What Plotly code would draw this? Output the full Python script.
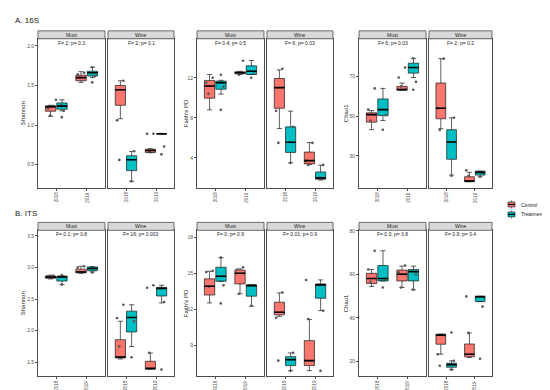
import plotly.graph_objects as go

W, H = 550, 390
years = ["2018", "2019"]
facets = ["Must", "Wine"]
conditions = ["Control", "Treatment"]
metrics = ["Shannon", "Faith's PD", "Chao1"]
colors = {"Control": "#F8766D", "Treatment": "#00BFC4"}

# Box statistics per year: (lower whisker, q1, median, q3, upper whisker)
# ---- A. 16S ----
a_shannon_must_control = [(1.11, 1.175, 1.233, 1.24, 1.25), (1.54, 1.56, 1.60, 1.63, 1.675)]
a_shannon_must_treatment = [(1.18, 1.20, 1.24, 1.28, 1.32), (1.60, 1.62, 1.66, 1.68, 1.73)]
a_shannon_wine_control = [(1.08, 1.25, 1.446, 1.50, 1.56), (0.65, 0.654, 0.679, 0.696, 0.70)]
a_shannon_wine_treatment = [(0.29, 0.425, 0.5625, 0.6125, 0.667), (0.885, 0.888, 0.89, 0.892, 0.895)]
a_shannon_must_points = [[1.32, 1.25, 1.21, 1.18, 1.12, 1.10, 1.24], [1.73, 1.62, 1.60, 1.66, 1.54, 1.64]]
a_shannon_wine_points = [[1.56, 1.06, 0.67, 0.29, 0.56], [0.89, 0.73, 0.63, 0.67, 0.89]]

a_faith_must_control = [(8.8, 9.97, 11.18, 11.74, 12.33), (12.35, 12.4, 12.5, 12.6, 12.65)]
a_faith_must_treatment = [(10.37, 10.86, 11.5, 11.67, 11.75), (12.33, 12.33, 12.65, 13.2, 13.73)]
a_faith_wine_control = [(6.93, 8.96, 11.02, 11.93, 12.8), (3.34, 3.4, 3.73, 4.58, 5.53)]
a_faith_wine_treatment = [(3.5, 4.55, 5.56, 7.1, 8.67), (1.8, 1.87, 2.0, 2.59, 3.27)]
a_faith_must_points = [[12.3, 12.0, 11.5, 10.4, 8.8, 11.1], [13.7, 12.0, 12.5, 12.4, 12.3]]
a_faith_wine_points = [[12.9, 8.7, 7.1, 3.5, 5.5], [5.5, 3.7, 3.3, 3.3, 2.0]]

a_chao_must_control = [(43.2, 47, 50.8, 51.7, 52.8), (63.2, 63.2, 63.3, 65, 66.7)]
a_chao_must_treatment = [(47.8, 50.3, 53.3, 58.7, 64), (69.5, 71.7, 74.5, 76.7, 79)]
a_chao_wine_control = [(43.7, 48.7, 54, 66.7, 79), (17, 17, 17.3, 19.5, 21.7)]
a_chao_wine_treatment = [(20.3, 28.3, 37, 43.2, 49.2), (19.5, 20.3, 21.7, 22.3, 22.3)]
a_chao_must_points = [[53.3, 47.8, 64, 43.2, 50.5], [79.2, 74.5, 69.5, 67.3, 63.3, 65]]
a_chao_wine_points = [[79, 54, 49.2, 43, 20], [22.7, 21.5, 20, 19.5]]

# ---- B. ITS ----
b_shannon_must_control = [(2.82, 2.83, 2.85, 2.865, 2.88), (2.91, 2.917, 2.93, 2.975, 3.02)]
b_shannon_must_treatment = [(2.73, 2.786, 2.85, 2.865, 2.87), (2.93, 2.95, 2.985, 3.01, 3.015)]
b_shannon_wine_control = [(1.553, 1.568, 1.584, 1.857, 2.15), (1.395, 1.395, 1.40, 1.516, 1.647)]
b_shannon_wine_treatment = [(1.75, 1.98, 2.21, 2.31, 2.41), (2.44, 2.55, 2.67, 2.686, 2.72)]
b_shannon_must_points = [[2.86, 2.85, 2.88, 2.84, 2.73, 2.87], [3.02, 2.93, 2.92, 3.0, 2.99]]
b_shannon_wine_points = [[2.15, 1.58, 2.41, 1.75, 2.2], [2.68, 2.455, 1.385, 1.65, 2.72]]

b_faith_must_control = [(12.54, 13.2, 13.93, 14.54, 15.17), (13.3, 14.12, 15.0, 15.26, 15.37)]
b_faith_must_treatment = [(14.34, 14.34, 14.76, 15.5, 16.31), (12.27, 13.1, 13.98, 14.04, 14.04)]
b_faith_wine_control = [(11.43, 11.55, 11.77, 12.6, 13.37), (6.92, 7.34, 7.75, 9.41, 11.16)]
b_faith_wine_treatment = [(6.92, 7.34, 7.83, 8.08, 8.39), (11.9, 12.93, 14.04, 14.12, 14.45)]
b_faith_must_points = [[15.2, 16.3, 14.0, 13.9, 12.5, 15.1], [15.5, 13.3, 12.3, 14.0, 15.3]]
b_faith_wine_points = [[13.4, 11.3, 8.4, 7.75, 6.9], [11.9, 11.2, 14.45, 6.9]]

b_chao_must_control = [(54.5, 55.8, 58.1, 60.5, 62.3), (54, 57, 60.1, 62, 63.8)]
b_chao_must_treatment = [(57, 57, 58.1, 64.1, 70.9), (53, 57, 61.3, 62.3, 63.8)]
b_chao_wine_control = [(23.3, 27.9, 32.1, 32.5, 32.5), (21.8, 22.1, 23.3, 28, 33.1)]
b_chao_wine_treatment = [(16.2, 17.3, 18.5, 19.2, 20.3), (47.5, 47.5, 49.8, 49.9, 49.9)]
b_chao_must_points = [[56.6, 62.3, 70.9, 54, 58], [64.1, 54, 53, 61, 60]]
b_chao_wine_points = [[33.3, 32.1, 23.3, 20.3, 16.2, 18], [49.9, 45.2, 33.1, 21.2]]

# ANOVA labels per panel (Must, Wine)
a_shannon_stats = ["F= 2; p= 0.3", "F= 2; p= 0.1"]
a_faith_stats = ["F= 0.4; p= 0.5", "F= 6; p= 0.03"]
a_chao_stats = ["F= 6; p= 0.03", "F= 2; p= 0.2"]
b_shannon_stats = ["F= 0.1; p= 0.8", "F= 16; p= 0.003"]
b_faith_stats = ["F= 0; p= 0.9", "F= 0.01; p= 0.9"]
b_chao_stats = ["F= 0.3; p= 0.8", "F= 0.9; p= 0.4"]

# y-axis ticks per metric/row
a_shannon_ticks = [0.5, 1.0, 1.5, 2.0]
a_faith_ticks = [4, 8, 12]
a_chao_ticks = [30, 50, 70]
b_shannon_ticks = [1.5, 2.0, 2.5, 3.0, 3.5]
b_faith_ticks = [9, 12, 15, 18]
b_chao_ticks = [20, 40, 60, 80]

# ---------------- layout geometry (pixels) ----------------
col_x = [((30, 97), (100, 166)), ((189, 256), (259, 325)), ((351, 418), (421, 484))]
row_y = [(20, 28, 178), (213, 221, 368)]  # strip top, panel top, panel bottom
ylabel_x = [15, 178, 338]
row_titles = [("A. 16S", 10), ("B. ITS", 204)]
yranges = [[(0.21, 2.09), (1.03, 15.9), (14, 89)],
           [(1.28, 3.59), (6.46, 18.57), (13.2, 80.3)]]
DODGE = 0.1875
BOXW = 0.34
FONT = "Liberation Sans, Arial, sans-serif"
BORDER = "#4D4D4D"
XLAB_OFFSET = 9.5  # px from panel bottom to centre of rotated year label

groups = [
    [  # row A
        dict(m=0, boxes=[(a_shannon_must_control, a_shannon_must_treatment), (a_shannon_wine_control, a_shannon_wine_treatment)],
             pts=[a_shannon_must_points, a_shannon_wine_points], stats=a_shannon_stats, ticks=a_shannon_ticks, fmt="%.1f"),
        dict(m=1, boxes=[(a_faith_must_control, a_faith_must_treatment), (a_faith_wine_control, a_faith_wine_treatment)],
             pts=[a_faith_must_points, a_faith_wine_points], stats=a_faith_stats, ticks=a_faith_ticks, fmt="%d"),
        dict(m=2, boxes=[(a_chao_must_control, a_chao_must_treatment), (a_chao_wine_control, a_chao_wine_treatment)],
             pts=[a_chao_must_points, a_chao_wine_points], stats=a_chao_stats, ticks=a_chao_ticks, fmt="%d"),
    ],
    [  # row B
        dict(m=0, boxes=[(b_shannon_must_control, b_shannon_must_treatment), (b_shannon_wine_control, b_shannon_wine_treatment)],
             pts=[b_shannon_must_points, b_shannon_wine_points], stats=b_shannon_stats, ticks=b_shannon_ticks, fmt="%.1f"),
        dict(m=1, boxes=[(b_faith_must_control, b_faith_must_treatment), (b_faith_wine_control, b_faith_wine_treatment)],
             pts=[b_faith_must_points, b_faith_wine_points], stats=b_faith_stats, ticks=b_faith_ticks, fmt="%d"),
        dict(m=2, boxes=[(b_chao_must_control, b_chao_must_treatment), (b_chao_wine_control, b_chao_wine_treatment)],
             pts=[b_chao_must_points, b_chao_wine_points], stats=b_chao_stats, ticks=b_chao_ticks, fmt="%d"),
    ],
]

fig = go.Figure()
layout = dict(width=W, height=H, margin=dict(l=0, r=0, t=0, b=0),
              paper_bgcolor="white", plot_bgcolor="white", showlegend=False,
              boxmode="overlay", font=dict(family=FONT))
shapes, annotations = [], []

def px(x):
    return x / W

def py(y):
    return 1 - y / H

k = 0
for r, row in enumerate(groups):
    st, pt, pb = row_y[r]
    for g in row:
        c = g["m"]
        ylo, yhi = yranges[r][c]
        for f in range(2):
            k += 1
            xa = "xaxis" if k == 1 else f"xaxis{k}"
            ya = "yaxis" if k == 1 else f"yaxis{k}"
            xr = "x" if k == 1 else f"x{k}"
            yr = "y" if k == 1 else f"y{k}"
            x0, x1 = col_x[c][f]
            layout[xa] = dict(domain=[px(x0), px(x1)], anchor=yr, range=[0.4, 2.6],
                              tickvals=[1, 2], showticklabels=False,
                              ticks="outside", ticklen=2, tickcolor=BORDER, tickwidth=0.6,
                              showline=True, mirror=True, linecolor=BORDER, linewidth=0.8,
                              showgrid=False, zeroline=False, fixedrange=True)
            layout[ya] = dict(domain=[py(pb), py(pt)], anchor=xr, range=[ylo, yhi],
                              tickvals=g["ticks"], ticktext=[g["fmt"] % t for t in g["ticks"]],
                              showticklabels=(f == 0), ticks="outside" if f == 0 else "",
                              ticklen=2, tickcolor=BORDER, tickwidth=0.6,
                              tickfont=dict(size=5, color="#4D4D4D", family=FONT),
                              showline=True, mirror=True, linecolor=BORDER, linewidth=0.8,
                              showgrid=False, zeroline=False, fixedrange=True)
            # x tick labels (rotated, like ggplot angle=90)
            for i, yrname in enumerate(years):
                annotations.append(dict(text=yrname, xref=xr, yref="paper", x=i + 1,
                                        y=py(pb + XLAB_OFFSET),
                                        textangle=-90, showarrow=False, xanchor="center", yanchor="middle",
                                        borderpad=0,
                                        font=dict(size=4.5, color="#4D4D4D", family=FONT)))
            # boxes
            for ci, cond in enumerate(conditions):
                s = g["boxes"][f][ci]
                off = -DODGE if ci == 0 else DODGE
                fig.add_trace(go.Box(
                    x=[i + 1 + off for i in range(len(years))],
                    lowerfence=[v[0] for v in s], q1=[v[1] for v in s], median=[v[2] for v in s],
                    q3=[v[3] for v in s], upperfence=[v[4] for v in s],
                    width=BOXW, fillcolor=colors[cond], line=dict(color="#1A1A1A", width=0.7),
                    boxpoints=False, name=cond, xaxis=xr, yaxis=yr, showlegend=False))
                # thicker median like ggplot
                for i, v in enumerate(s):
                    fig.add_trace(go.Scatter(
                        x=[i + 1 + off - BOXW / 2, i + 1 + off + BOXW / 2], y=[v[2], v[2]],
                        mode="lines", line=dict(color="#000000", width=1.6),
                        xaxis=xr, yaxis=yr, showlegend=False, hoverinfo="skip"))
            # jittered points
            for i, yv in enumerate(g["pts"][f]):
                fig.add_trace(go.Box(
                    x=[i + 1] * len(yv), y=yv, boxpoints="all", jitter=1, pointpos=0, width=0.7,
                    line=dict(width=0), fillcolor="rgba(0,0,0,0)",
                    marker=dict(color="#555555", size=2.6), xaxis=xr, yaxis=yr,
                    showlegend=False, hoveron="points"))
            # strip
            shapes.append(dict(type="rect", xref="paper", yref="paper", x0=px(x0), x1=px(x1),
                               y0=py(pt), y1=py(st), fillcolor="#D9D9D9",
                               line=dict(color=BORDER, width=0.8), layer="above"))
            annotations.append(dict(text=facets[f], xref="paper", yref="paper",
                                    x=px((x0 + x1) / 2), y=py((st + pt) / 2), showarrow=False,
                                    xanchor="center", yanchor="middle",
                                    font=dict(size=5, color="#1A1A1A", family=FONT)))
            annotations.append(dict(text=g["stats"][f], xref="paper", yref="paper",
                                    x=px((x0 + x1) / 2), y=py(pt + 4), showarrow=False,
                                    xanchor="center", yanchor="middle",
                                    font=dict(size=5, color="#1A1A1A", family=FONT)))
        annotations.append(dict(text=metrics[c], xref="paper", yref="paper",
                                x=px(ylabel_x[c]), y=py((pt + pb) / 2), textangle=-90,
                                showarrow=False, xanchor="center", yanchor="middle",
                                font=dict(size=6, color="#1A1A1A", family=FONT)))
    t, ty = row_titles[r]
    annotations.append(dict(text=t, xref="paper", yref="paper", x=px(5), y=py(ty),
                            showarrow=False, xanchor="left", yanchor="middle",
                            font=dict(size=8, color="#1A1A1A", family=FONT)))

# legend (drawn manually, ggplot style)
leg_items = [(conditions[0], 195), (conditions[1], 205)]
for cond, ly in leg_items:
    shapes.append(dict(type="line", xref="paper", yref="paper", x0=px(503.5), x1=px(503.5),
                       y0=py(ly - 4), y1=py(ly + 4), line=dict(color="#1A1A1A", width=0.6)))
    shapes.append(dict(type="rect", xref="paper", yref="paper", x0=px(500), x1=px(507),
                       y0=py(ly + 2.5), y1=py(ly - 2.5), fillcolor=colors[cond],
                       line=dict(color="#1A1A1A", width=0.6)))
    shapes.append(dict(type="line", xref="paper", yref="paper", x0=px(500), x1=px(507),
                       y0=py(ly), y1=py(ly), line=dict(color="#000000", width=1.2)))
    annotations.append(dict(text=cond, xref="paper", yref="paper", x=px(511), y=py(ly),
                            showarrow=False, xanchor="left", yanchor="middle",
                            font=dict(size=5, color="#1A1A1A", family=FONT)))

layout["shapes"] = shapes
layout["annotations"] = annotations
fig.update_layout(**layout)
fig.write_html("out.html")
